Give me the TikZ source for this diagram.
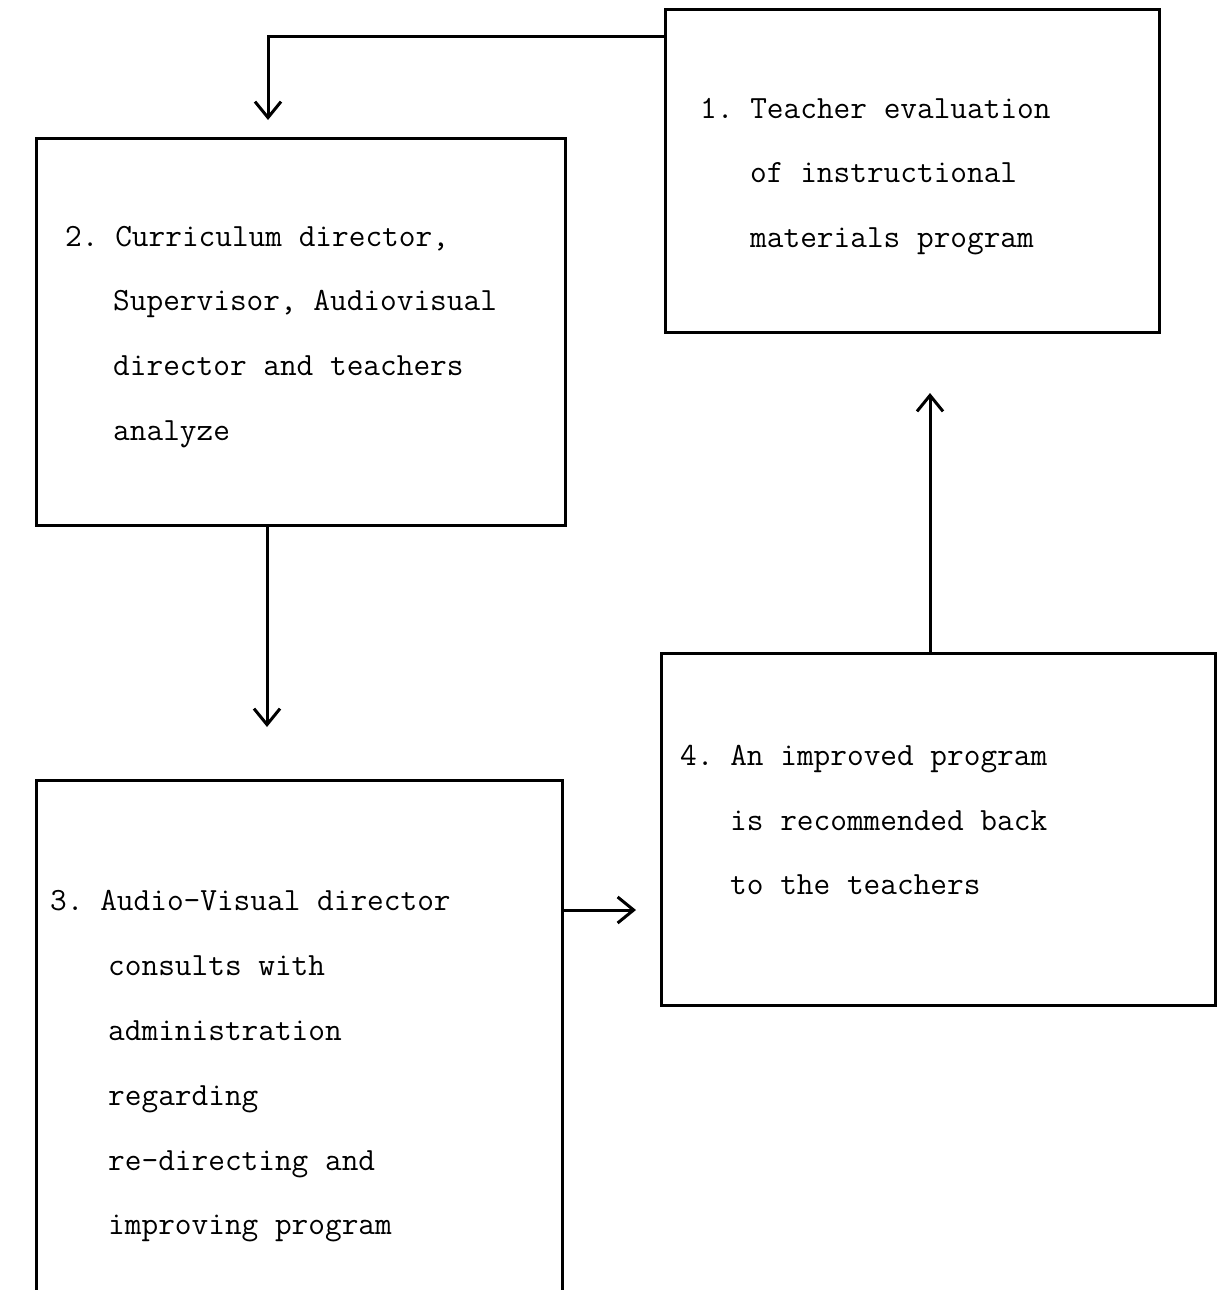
\documentclass[tikz,border=0pt]{standalone}
\usetikzlibrary{arrows.meta}
\begin{document}
\frenchspacing
\begin{tikzpicture}[x=1pt,y=-1pt,
  box/.style={draw=black,line width=3pt,inner sep=0pt,rectangle},
  arr/.style={line width=3pt,-{Straight Barb[length=16pt,width=26pt,line width=3pt]}},
  txt/.style={anchor=base west,inner sep=0pt,font=\ttfamily\fontsize{32.4}{40}\selectfont}]
\useasboundingbox (0,0) rectangle (1221,1290);
\fill[white] (0,0) rectangle (1221,1290);
% boxes
\node[box,minimum width=494pt,minimum height=322pt] (b1) at (912,171) {};
\node[box,minimum width=529pt,minimum height=387pt] (b2) at (300.5,331.5) {};
\node[inner sep=0pt,minimum width=525pt,minimum height=509pt] (b3) at (299.5,1035.5) {};
\draw[line width=3pt] (b3.south west) -- (b3.north west) -- (b3.north east) -- (b3.south east);
\node[box,minimum width=554pt,minimum height=352pt] (b4) at (938,829) {};
% connector coordinates
\coordinate (c12) at (268,120);
\coordinate (c23) at (267,727);
\coordinate (c34) at (636,910);
\coordinate (c41) at (930,393);
\draw[arr] ([yshift=-28pt]b1.north west) -| (c12);
\draw[arr] (b2.south -| c23) -- (c23);
\draw[arr] (b3.east |- c34) -- (c34);
\draw[arr] (b4.north -| c41) -- (c41);
% texts box 1
\node[txt] (t1a) at (700,118) {1. Teacher evaluation};
\node[txt] (t1b) at (750,182) {of instructional};
\node[txt] (t1c) at (750,247) {materials program};
% box 2
\node[txt] (t2a) at (65,246) {2. Curriculum director,};
\node[txt] (t2b) at (113,310) {Supervisor, Audiovisual};
\node[txt] (t2c) at (113,375) {director and teachers};
\node[txt] (t2d) at (113,440) {analyze};
% box 3
\node[txt] (t3a) at (50,910) {3. Audio-Visual director};
\node[txt] (t3b) at (108,975) {consults with};
\node[txt] (t3c) at (108,1040) {administration};
\node[txt] (t3d) at (108,1105) {regarding};
\node[txt] (t3e) at (108,1170) {re-directing and};
\node[txt] (t3f) at (108,1234) {improving program};
% box 4
\node[txt] (t4a) at (680,765) {4. An improved program};
\node[txt] (t4b) at (730,830) {is recommended back};
\node[txt] (t4c) at (730,894) {to the teachers};
\end{tikzpicture}
\end{document}
